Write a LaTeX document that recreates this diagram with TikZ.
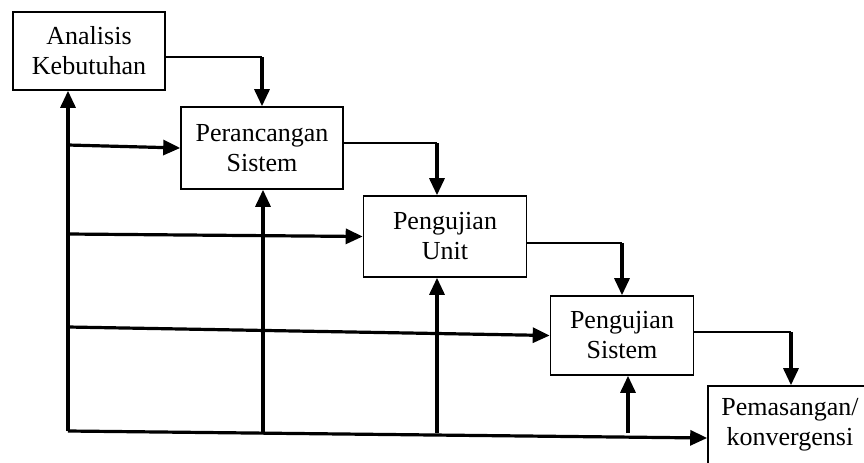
\documentclass[tikz,border=0pt]{standalone}
\usepackage{fontspec}
\setmainfont{Liberation Serif}
\usetikzlibrary{arrows.meta, positioning}

\tikzset{
  tahap/.style={shape=rectangle, draw=black, line width=0.8pt, fill=white, align=center, font=\fontsize{13}{15}\selectfont},
  tebal/.style={line width=1.6pt, -{Triangle[length=8.5pt,width=7.5pt]}},
  tipis/.style={line width=0.8pt}
}

\begin{document}
\begin{tikzpicture}[x=0.5pt, y=-0.5pt]
\useasboundingbox (0,0) rectangle (864,462);
\node[tahap, minimum width=76pt, minimum height=39pt] (analisis) at (89,51) {Analisis\\Kebutuhan};
\node[tahap, minimum width=81pt, minimum height=41pt] (rancang) at (262,148) {Perancangan\\Sistem};
\node[tahap, minimum width=81.5pt, minimum height=40.5pt] (unit) at (445,236.5) {Pengujian\\Unit};
\node[tahap, minimum width=71.5pt, minimum height=39.5pt] (sistem) at (622,335.5) {Pengujian\\Sistem};
\node[tahap, minimum width=82pt, minimum height=39pt] (pasang) at (790,425) {Pemasangan/\\konvergensi};
% alur turun
\coordinate (k1) at (262,57);
\coordinate (k2) at (437,143);
\coordinate (k3) at (622,243);
\coordinate (k4) at (791,332);
\draw[tipis] (analisis.east |- k1) -- (k1);\draw[tebal] (k1) -- (k1 |- rancang.north);
\draw[tipis] (rancang.east |- k2) -- (k2);\draw[tebal] (k2) -- (k2 |- unit.north);
\draw[tipis] (unit.east |- k3) -- (k3);\draw[tebal] (k3) -- (k3 |- sistem.north);
\draw[tipis] (sistem.east |- k4) -- (k4);\draw[tebal] (k4) -- (k4 |- pasang.north);
% umpan balik
\coordinate (pojok) at (68,431);
\draw[tebal] (pojok) -- (pojok |- analisis.south);
\foreach \y/\n in {145/rancang, 234/unit, 327/sistem}{
	\draw[tebal] (68,\y) coordinate (masuk-\n) -- (\n.west);
}
\draw[tebal] (pojok) -- ([yshift=-6.5pt]pasang.west);
\foreach \x/\n in {263/rancang, 437/unit, 628/sistem}{
	\coordinate (naik-\n) at (\x,433);
	\draw[tebal] (naik-\n) -- (naik-\n |- \n.south);
}
\end{tikzpicture}
\end{document}
